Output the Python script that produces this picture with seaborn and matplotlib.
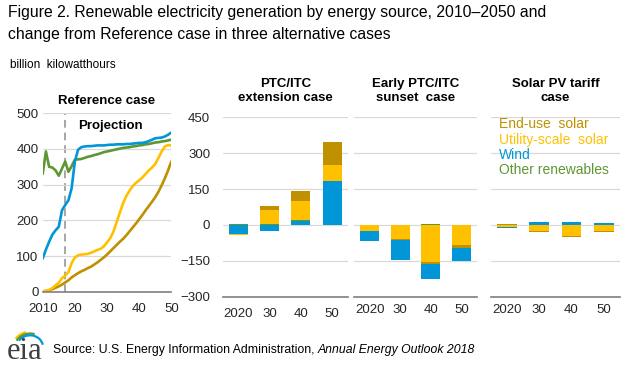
import numpy as np
import pandas as pd
import seaborn as sns
import matplotlib.pyplot as plt
from matplotlib.patches import Arc

# colours
c_end = '#BF9000'
c_util = '#FFC000'
c_wind = '#0096D7'
c_other = '#5D9732'

# reference case, billion kWh, 2010-2050
years = list(range(2010, 2051))
wind = [93, 118, 140, 160, 172, 182, 228, 243, 256, 290,
        365, 398, 405, 407, 408, 408, 409, 410, 410, 410,
        411, 412, 412, 413, 413, 413, 414, 414, 415, 416,
        417, 417, 419, 422, 426, 430, 431, 432, 435, 440, 446]
other = [330, 393, 350, 348, 340, 325, 345, 365, 336, 352,
         370, 371, 372, 375, 378, 380, 383, 385, 388, 391,
         393, 395, 397, 399, 401, 403, 404, 405, 407, 408,
         410, 411, 413, 414, 416, 418, 419, 421, 422, 424, 426]
utility = [1, 2, 5, 10, 18, 25, 38, 45, 55, 80,
           96, 102, 104, 105, 106, 109, 113, 117, 120, 127,
           138, 150, 168, 195, 222, 248, 268, 283, 296, 305,
           312, 320, 330, 340, 348, 358, 375, 393, 407, 411, 410]
enduse = [1, 2, 4, 7, 11, 15, 20, 26, 32, 40,
          46, 52, 57, 61, 66, 70, 76, 82, 89, 96,
          104, 113, 122, 131, 140, 148, 158, 169, 180, 191,
          203, 215, 228, 240, 252, 265, 280, 298, 318, 340, 365]

# change from reference case
bar_years = ['2020', '30', '40', '50']
ext_wind = [-38, -27, 17, 185]
ext_other = [2, 5, 4, 0]
ext_util = [-4, 57, 80, 67]
ext_end = [0, 17, 42, 94]
sun_wind = [-42, -83, -61, -53]
sun_other = [0, 0, 3, 0]
sun_util = [-26, -58, -155, -85]
sun_end = [0, -5, -8, -12]
tar_wind = [-4, 14, 14, 10]
tar_other = [0, 0, 0, 0]
tar_util = [-10, -25, -46, -24]
tar_end = [3, -4, -4, -4]

sns.set_theme(style='white')
plt.rcParams['font.family'] = ['Liberation Sans', 'DejaVu Sans']
plt.rcParams['text.color'] = '#000000'

W, H = 630, 378
fig = plt.figure(figsize=(6.3, 3.78), dpi=100)


def box(x0, x1, ytop, ybot):
    return [x0 / W, 1 - ybot / H, (x1 - x0) / W, (ybot - ytop) / H]


grid_c = '#D9D9D9'
axis_c = '#7F7F7F'

# panel 1: reference case lines
ax1 = fig.add_axes(box(42.7, 171.3, 113.3, 291.7))
ref = pd.DataFrame({'year': years, 'Wind': wind, 'Other renewables': other,
                    'Utility-scale solar': utility, 'End-use solar': enduse})
ref = ref.melt(id_vars='year', var_name='source', value_name='value')
sns.lineplot(data=ref, x='year', y='value', hue='source',
             palette={'Wind': c_wind, 'Other renewables': c_other,
                      'Utility-scale solar': c_util, 'End-use solar': c_end},
             hue_order=['End-use solar', 'Utility-scale solar', 'Other renewables', 'Wind'],
             linewidth=1.9, legend=False, ax=ax1)
ax1.axvline(2017, color='#A6A6A6', ls=(0, (4, 2.5)), lw=1.4, zorder=0.5)
ax1.set_xlim(2010, 2050)
ax1.set_ylim(0, 500)
ax1.set_yticks(range(0, 501, 100))
ax1.set_xticks([2010, 2020, 2030, 2040, 2050])
ax1.set_xticklabels(['2010', '20', '30', '40', '50'])
ax1.grid(axis='y', color=grid_c, lw=0.9)
ax1.set_axisbelow(True)
for s in ['left', 'right', 'top']:
    ax1.spines[s].set_visible(False)
ax1.spines['bottom'].set_color(axis_c)
ax1.spines['bottom'].set_linewidth(1.2)
ax1.tick_params(axis='x', length=4, width=1, color=axis_c, labelsize=9.5, pad=4)
ax1.tick_params(axis='y', length=0, labelsize=9.5, pad=3)
ax1.set_xlabel('')
ax1.set_ylabel('')
ax1.text(0.5, 1.035, 'Reference case', transform=ax1.transAxes, ha='center',
         va='bottom', fontsize=9.5, fontweight='bold')
ax1.text(2031, 465, 'Projection', ha='center', va='center',
         fontsize=9.5, fontweight='bold')


def stacked(ax, series, order):
    x = np.arange(len(bar_years))
    pos = np.zeros(len(x))
    neg = np.zeros(len(x))
    for name in order:
        vals, col = series[name]
        vals = np.array(vals, dtype=float)
        p = np.where(vals > 0, vals, 0)
        n = np.where(vals < 0, vals, 0)
        ax.bar(x, p, bottom=pos, width=0.61, color=col, zorder=3, linewidth=0)
        ax.bar(x, n, bottom=neg, width=0.61, color=col, zorder=3, linewidth=0)
        pos += p
        neg += n
    ax.set_xlim(-0.5, 3.5)
    ax.set_ylim(-300, 450)
    ax.set_yticks(range(-300, 451, 150))
    ax.set_xticks([-0.5, 0.5, 1.5, 2.5, 3.5])
    ax.set_xticklabels([])
    ax.set_xticks(x, minor=True)
    ax.set_xticklabels(bar_years, minor=True)
    ax.tick_params(axis='x', which='major', length=5, width=1, color=axis_c)
    ax.tick_params(axis='x', which='minor', length=0, labelsize=9.5, pad=8)
    ax.grid(axis='y', color=grid_c, lw=0.9)
    ax.set_axisbelow(True)
    for s in ['left', 'right', 'top']:
        ax.spines[s].set_visible(False)
    ax.spines['bottom'].set_color(axis_c)
    ax.spines['bottom'].set_linewidth(1.2)


ax2 = fig.add_axes(box(222.7, 347.7, 117.3, 296.7))
stacked(ax2, {'wind': (ext_wind, c_wind), 'other': (ext_other, c_other),
              'util': (ext_util, c_util), 'end': (ext_end, c_end)},
        ['wind', 'other', 'util', 'end'])
ax2.tick_params(axis='y', length=0, labelsize=9.5, pad=9)
ax2.set_title('PTC/ITC\nextension case', fontsize=9.5, fontweight='bold',
              pad=12, linespacing=1.15)

ax3 = fig.add_axes(box(354.3, 476.7, 117.3, 296.7))
stacked(ax3, {'wind': (sun_wind, c_wind), 'other': (sun_other, c_other),
              'util': (sun_util, c_util), 'end': (sun_end, c_end)},
        ['other', 'util', 'end', 'wind'])
ax3.set_yticklabels([])
ax3.tick_params(axis='y', length=0)
ax3.tick_params(axis='x', which='minor', pad=5)
ax3.set_title('Early PTC/ITC\nsunset  case', fontsize=9.5, fontweight='bold',
              pad=12, linespacing=1.15)

ax4 = fig.add_axes(box(490.7, 620, 117.3, 296.7))
stacked(ax4, {'wind': (tar_wind, c_wind), 'other': (tar_other, c_other),
              'util': (tar_util, c_util), 'end': (tar_end, c_end)},
        ['util', 'end', 'wind', 'other'])
ax4.set_yticklabels([])
ax4.tick_params(axis='y', length=0)
ax4.tick_params(axis='x', which='minor', pad=5)
ax4.set_title('Solar PV tariff\ncase', fontsize=9.5, fontweight='bold',
              pad=12, linespacing=1.15)

# text legend
for i, (lab, col) in enumerate([('End-use  solar', c_end),
                                ('Utility-scale  solar', c_util),
                                ('Wind', c_wind),
                                ('Other renewables', c_other)]):
    fig.text(499 / W, 1 - (124.5 + i * 15.2) / H, lab, color=col, fontsize=10,
             va='center', ha='left')

fig.text(8 / W, 1 - 13 / H,
         'Figure 2. Renewable electricity generation by energy source, 2010\u20132050 and',
         fontsize=11.3, va='center', ha='left')
fig.text(8 / W, 1 - 34 / H,
         'change from Reference case in three alternative cases',
         fontsize=11.3, va='center', ha='left')
fig.text(10 / W, 1 - 65 / H, 'billion  kilowatthours', fontsize=8.5,
         va='center', ha='left')

src = fig.text(53 / W, 1 - 350 / H, 'Source: U.S. Energy Information Administration, ',
               fontsize=8.8, va='center', ha='left')
fig.canvas.draw()
bb = src.get_window_extent()
fig.text(bb.x1 / W, 1 - 350 / H, 'Annual Energy Outlook 2018', fontsize=8.8,
         style='italic', va='center', ha='left')

# eia logo (y measured upward from the figure bottom, in pixels)
lg = fig.add_axes(box(5, 45, 326, 372))
lg.set_xlim(5, 45)
lg.set_ylim(H - 372, H - 326)
lg.axis('off')
lg.text(25, H - 359, 'eia', family='Liberation Serif', fontsize=22, color='#3F3F3F',
        ha='center', va='baseline')
for r, col, t1, t2 in [(17, '#FFC000', 105, 150), (15, '#5D9732', 70, 155),
                       (13, '#0096D7', 10, 150)]:
    lg.add_patch(Arc((30, H - 347), 2 * r, 2 * r * 0.9, theta1=t1, theta2=t2,
                     color=col, lw=1.6))

fig.savefig('out.png', dpi=100)
